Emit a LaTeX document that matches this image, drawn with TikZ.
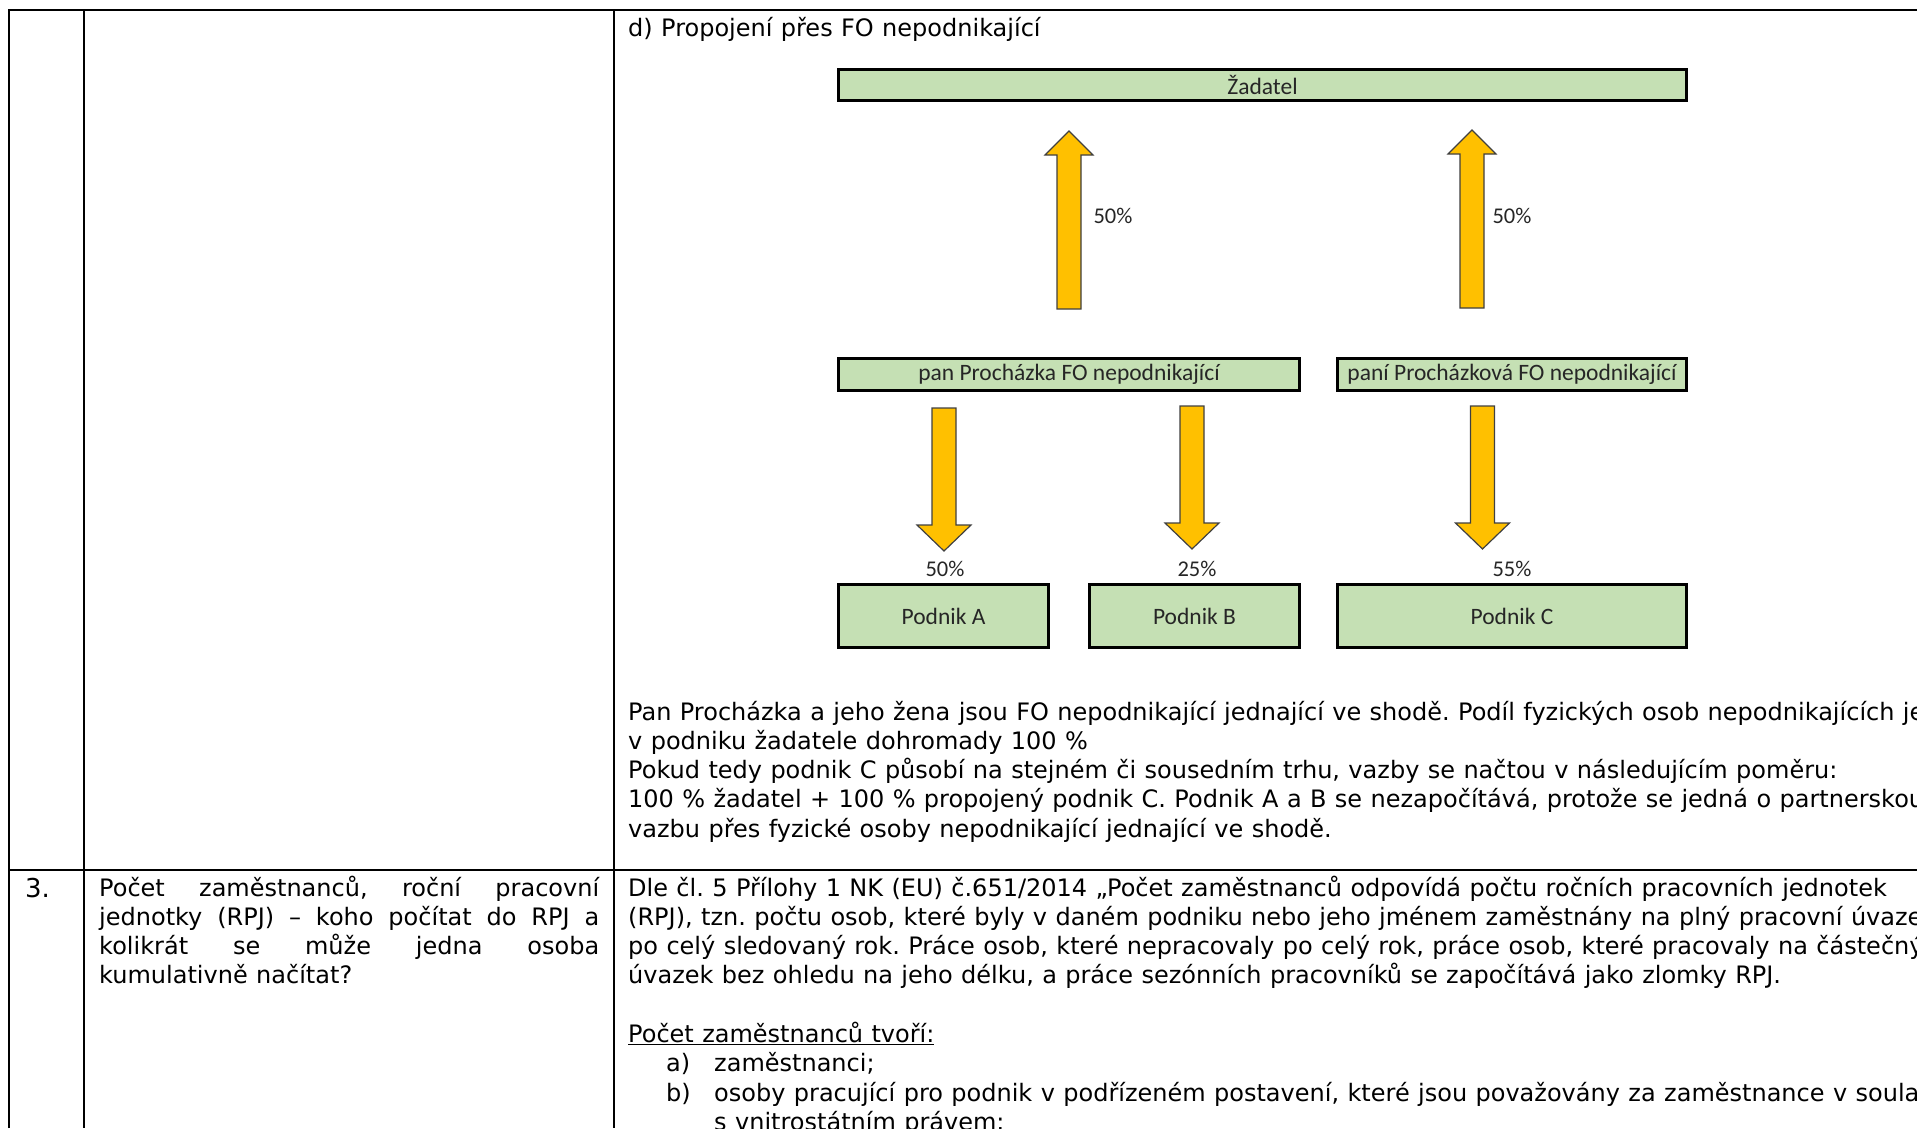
\documentclass[tikz,border=0pt]{standalone}
\usepackage{fontspec}
\setmainfont{DejaVu Sans}[WordSpace=1.1]
\newfontfamily\calib{Carlito}
\definecolor{boxgreen}{HTML}{C5E0B4}
\definecolor{arrgold}{HTML}{FFC000}
\definecolor{labtext}{HTML}{262626}
\newcommand\bodysize{\fontsize{24}{29.3}\selectfont}
\frenchspacing
\begin{document}
\begin{tikzpicture}[x=1pt,y=-1pt,
  grid/.style={line width=2pt,black},
  entbox/.style={draw=black,line width=3pt,fill=boxgreen,inner sep=0pt,
    font=\calib\fontsize{23.5}{28}\selectfont,text=labtext},
  pct/.style={inner sep=0pt,font=\calib\fontsize{22.5}{27}\selectfont,text=labtext},
  body/.style={anchor=base west,inner sep=0pt,font=\bodysize},
  blockarr/.style={fill=arrgold,draw=black!75,line width=1.2pt,line join=miter},
  uparr/.pic={\draw[blockarr] (0,0) -- (24,24) -- (12,24) -- (12,178) -- (-12,178) -- (-12,24) -- (-24,24) -- cycle;},
  downarr/.pic={\draw[blockarr] (0,0) -- (27,-26) -- (12,-26) -- (12,-143) -- (-12,-143) -- (-12,-26) -- (-27,-26) -- cycle;}
]
\useasboundingbox (0,0) rectangle (1917,1128);
\clip (0,0) rectangle (1917,1128);

% table grid
\draw[grid] (9,1128) -- (9,10) -- (1917,10);
\draw[grid] (84,10) -- (84,1128);
\draw[grid] (614,10) -- (614,1128);
\draw[grid] (9,870) -- (1917,870);

% heading
\node[body] (head) at (628,36) {d) Propojení přes FO nepodnikající};

% diagram boxes
\node[entbox,minimum width=848pt,minimum height=31pt] (zad) at (1262.5,85) {Žadatel};
\node[entbox,minimum width=461pt,minimum height=32pt] (pan) at (1069,374.5) {\raisebox{-2pt}{pan Procházka FO nepodnikající}};
\node[entbox,minimum width=349pt,minimum height=32pt] (pani) at (1512,374.5) {\raisebox{-2pt}{paní Procházková FO nepodnikající}};
\node[entbox,minimum width=210pt,minimum height=63pt] (pa) at (943.5,616) {\raisebox{-1pt}{Podnik A}};
\node[entbox,minimum width=210pt,minimum height=63pt] (pb) at (1194.5,616) {\raisebox{-1pt}{Podnik B}};
\node[entbox,minimum width=349pt,minimum height=63pt] (pc) at (1512,616) {\raisebox{-1pt}{Podnik C}};

% block arrows (tips)
\coordinate (u1) at (1069,131);
\coordinate (u2) at (1472,130);
\coordinate (d1) at (944,551);
\coordinate (d2) at (1192,549);
\coordinate (d3) at (1482.5,549);
\pic at (u1) {uparr};
\pic at (u2) {uparr};
\pic at (d1) {downarr};
\pic at (d2) {downarr};
\pic at (d3) {downarr};

% percentages
\node[pct] (l1) at (1113,216) {50\%};
\node[pct] (l2) at (1512,216) {50\%};
\node[pct] (l3) at (945,569) {50\%};
\node[pct] (l4) at (1197,569) {25\%};
\node[pct] (l5) at (1512,569) {55\%};

% paragraph
\node[body] (p1) at (628,720) {Pan Procházka a jeho žena jsou FO nepodnikající jednající ve shodě. Podíl fyzických osob nepodnikajících je};
\node[body] (p2) at (628,749.3) {v podniku žadatele dohromady 100 \%};
\node[body] (p3) at (628,778.6) {Pokud tedy podnik C působí na stejném či sousedním trhu, vazby se načtou v následujícím poměru:};
\node[body] (p4) at (628,807.9) {100 \% žadatel + 100 \% propojený podnik C. Podnik A a B se nezapočítává, protože se jedná o partnerskou};
\node[body] (p5) at (628,837.2) {vazbu přes fyzické osoby nepodnikající jednající ve shodě.};

% row 3
\node[body,font=\fontsize{26}{30}\selectfont] (n3) at (25,897) {3.};
\node[body] (q1) at (99,896) {\makebox[500pt][s]{Počet zaměstnanců, roční pracovní}};
\node[body] (q2) at (99,925.3) {\makebox[500pt][s]{jednotky (RPJ) – koho počítat do RPJ a}};
\node[body] (q3) at (99,954.6) {\makebox[500pt][s]{kolikrát se může jedna osoba}};
\node[body] (q4) at (99,983.9) {kumulativně načítat?};

\node[body] (r1) at (628,896) {Dle čl. 5 Přílohy 1 NK (EU) č.651/2014 „Počet zaměstnanců odpovídá počtu ročních pracovních jednotek};
\node[body] (r2) at (628,925.3) {(RPJ), tzn. počtu osob, které byly v daném podniku nebo jeho jménem zaměstnány na plný pracovní úvazek};
\node[body] (r3) at (628,954.6) {po celý sledovaný rok. Práce osob, které nepracovaly po celý rok, práce osob, které pracovaly na částečný};
\node[body] (r4) at (628,983.9) {úvazek bez ohledu na jeho délku, a práce sezónních pracovníků se započítává jako zlomky RPJ.};
\node[body] (r5) at (628,1042.5) {\underline{Počet zaměstnanců tvoří:}};
\node[body] (r6a) at (666,1071.8) {a)};
\node[body] (r6) at (714,1071.8) {zaměstnanci;};
\node[body] (r7a) at (666,1101.1) {b)};
\node[body] (r7) at (714,1101.1) {osoby pracující pro podnik v podřízeném postavení, které jsou považovány za zaměstnance v souladu};
\node[body] (r8) at (714,1130.4) {s vnitrostátním právem;};
\end{tikzpicture}
\end{document}
